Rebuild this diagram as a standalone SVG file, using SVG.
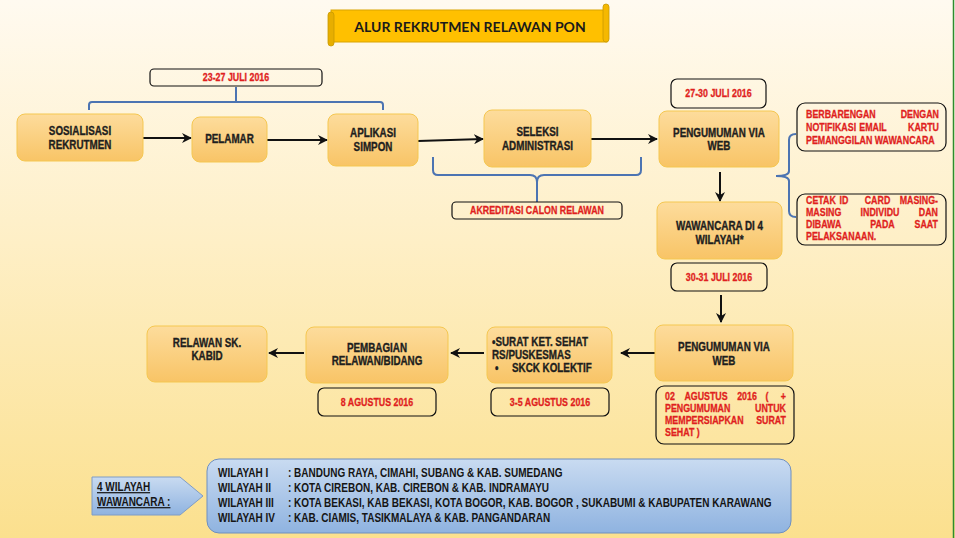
<svg xmlns="http://www.w3.org/2000/svg" width="955" height="538" viewBox="0 0 955 538">
<defs>
<linearGradient id="bg" x1="0" y1="0" x2="0" y2="1">
<stop offset="0" stop-color="#FFFAF0"/>
<stop offset="0.45" stop-color="#FEEFC6"/>
<stop offset="1" stop-color="#FBE08E"/>
</linearGradient>
<linearGradient id="ng" x1="0" y1="0" x2="0" y2="1">
<stop offset="0" stop-color="#FDDC9C"/>
<stop offset="1" stop-color="#F8C466"/>
</linearGradient>
<linearGradient id="lg" x1="0" y1="0" x2="0" y2="1">
<stop offset="0" stop-color="#C9DBF1"/>
<stop offset="1" stop-color="#8FB3E0"/>
</linearGradient>
<marker id="ah" viewBox="0 0 10 10" refX="9" refY="5" markerWidth="5" markerHeight="5" orient="auto" markerUnits="strokeWidth">
<path d="M0,0 L10,5 L0,10 L3,5 Z" fill="#111"/>
</marker>
<style>
.n rect{fill:url(#ng);stroke:#F5C751;stroke-width:1}
.nt{font-family:"Liberation Sans",Arial,sans-serif;font-weight:bold;font-size:12px;fill:#1E1E1E;stroke:#1E1E1E;stroke-width:0.35;text-anchor:middle}
.nl{text-anchor:start}
.d rect{fill:none;stroke:#111;stroke-width:1.2}
.rt{font-family:"Liberation Sans",Arial,sans-serif;font-weight:bold;font-size:10.8px;fill:#E01F1E;stroke:#E01F1E;stroke-width:0.3;text-anchor:middle}
.s{text-anchor:start}
.e{text-anchor:end}
.ar{stroke:#111;stroke-width:2;fill:none;marker-end:url(#ah)}
.br{stroke:#4C74B2;stroke-width:2;fill:none}
.lt{font-family:"Liberation Sans",Arial,sans-serif;font-weight:bold;font-size:12.2px;fill:#151515}
</style>
</defs>
<rect x="0" y="0" width="955" height="538" fill="url(#bg)"/>
<line x1="953.5" y1="0" x2="953.5" y2="538" stroke="#2E8B2E" stroke-width="1.5"/>

<g id="title">
<rect x="331" y="10" width="276" height="32" fill="#FFC000" stroke="#D9A400" stroke-width="1"/>
<rect x="328" y="12" width="6" height="34" rx="3" fill="#E7AE00" stroke="#C99A00" stroke-width="0.8"/>
<rect x="603" y="4" width="6" height="38" rx="3" fill="#F5B800" stroke="#C99A00" stroke-width="0.8"/>
<text x="470" y="31.5" font-family="Lato,'Open Sans',sans-serif" font-weight="bold" font-size="14" fill="#1A1A1A" text-anchor="middle">ALUR REKRUTMEN RELAWAN PON</text>
</g>

<g id="connectors">
<path class="ar" d="M143,138 L191,138"/>
<path class="ar" d="M267,140 L327,140"/>
<path class="ar" d="M418,141 L483,139"/>
<path class="ar" d="M591,139 L657,139"/>
<path class="ar" d="M720,172 L720,201"/>
<path class="ar" d="M721,295 L721,322"/>
<path class="ar" d="M655,353 L621,353"/>
<path class="ar" d="M484,353 L451,353"/>
<path class="ar" d="M304,353 L269,353"/>
<path class="br" d="M89,110 L89,105 Q89,102 92,102 L380,102 Q383,102 383,105 L383,110 M236,87 L236,102"/>
<path class="br" d="M433,157 L433,170 Q433,175 438,175 L530,175 Q537,175 537,182 L537,202 M537,182 Q537,175 544,175 L636,175 Q641,175 641,170 L641,157"/>
<path class="br" d="M796,134 Q789,134 789,140 L789,171 Q789,176 776,176 Q789,176 789,181 L789,211 Q789,217 796,217" stroke-width="1.6"/>
</g>

<g id="n-sosialisasi" class="n"><rect x="17" y="114" width="126" height="47" rx="8"/>
<text class="nt" transform="translate(80,135.3) scale(.82,1)">SOSIALISASI</text><text class="nt" transform="translate(80,149.3) scale(.82,1)">REKRUTMEN</text></g>
<g id="n-pelamar" class="n"><rect x="192" y="117" width="75" height="45" rx="8"/>
<text class="nt" transform="translate(229.5,143.3) scale(.82,1)">PELAMAR</text></g>
<g id="n-aplikasi" class="n"><rect x="328" y="114" width="90" height="52" rx="8"/>
<text class="nt" transform="translate(373,137.3) scale(.82,1)">APLIKASI</text><text class="nt" transform="translate(373,151.3) scale(.82,1)">SIMPON</text></g>
<g id="n-seleksi" class="n"><rect x="484" y="110" width="107" height="57" rx="8"/>
<text class="nt" transform="translate(537.5,136) scale(.82,1)">SELEKSI</text><text class="nt" transform="translate(537.5,150) scale(.82,1)">ADMINISTRASI</text></g>
<g id="n-pengumuman1" class="n"><rect x="659" y="111" width="120" height="56" rx="8"/>
<text class="nt" transform="translate(719,136.5) scale(.82,1)">PENGUMUMAN VIA</text><text class="nt" transform="translate(719,150) scale(.82,1)">WEB</text></g>
<g id="n-wawancara" class="n"><rect x="657" y="202" width="125" height="57" rx="8"/>
<text class="nt" transform="translate(719.5,230.3) scale(.82,1)">WAWANCARA DI 4</text><text class="nt" transform="translate(719.5,244.3) scale(.82,1)">WILAYAH*</text></g>
<g id="n-pengumuman2" class="n"><rect x="655" y="325" width="138" height="56" rx="8"/>
<text class="nt" transform="translate(724,351.3) scale(.82,1)">PENGUMUMAN VIA</text><text class="nt" transform="translate(724,365.3) scale(.82,1)">WEB</text></g>
<g id="n-surat" class="n"><rect x="487" y="327" width="125" height="56" rx="8"/>
<text class="nt nl" transform="translate(492,346.3) scale(.82,1)">•SURAT KET. SEHAT</text><text class="nt nl" transform="translate(492,359.3) scale(.82,1)">RS/PUSKESMAS</text>
<text class="nt nl" transform="translate(495,372.3) scale(.82,1)">•</text><text class="nt nl" transform="translate(512,372.3) scale(.82,1)">SKCK KOLEKTIF</text></g>
<g id="n-pembagian" class="n"><rect x="306" y="327" width="142" height="56" rx="8"/>
<text class="nt" transform="translate(377,352) scale(.82,1)">PEMBAGIAN</text><text class="nt" transform="translate(377,365) scale(.82,1)">RELAWAN/BIDANG</text></g>
<g id="n-relawan" class="n"><rect x="147" y="326" width="120" height="56" rx="8"/>
<text class="nt" transform="translate(207,347.3) scale(.82,1)">RELAWAN SK.</text><text class="nt" transform="translate(207,360.3) scale(.82,1)">KABID</text></g>

<g id="d-2327" class="d"><rect x="150" y="69" width="172" height="17" rx="4"/><text class="rt" transform="translate(236,81.3) scale(.82,1)">23-27 JULI 2016</text></g>
<g id="d-2730" class="d"><rect x="671" y="79" width="95" height="29" rx="6"/><text class="rt" transform="translate(718.5,96.8) scale(.82,1)">27-30 JULI 2016</text></g>
<g id="d-akreditasi" class="d"><rect x="452" y="202" width="170" height="17" rx="4"/><text class="rt" transform="translate(537,214.3) scale(.82,1)">AKREDITASI CALON RELAWAN</text></g>
<g id="d-3031" class="d"><rect x="671" y="263" width="96" height="28" rx="6"/><text class="rt" transform="translate(719,280.8) scale(.82,1)">30-31 JULI 2016</text></g>
<g id="d-8agu" class="d"><rect x="318" y="388" width="118" height="28" rx="6"/><text class="rt" transform="translate(377,405.8) scale(.82,1)">8 AGUSTUS 2016</text></g>
<g id="d-35agu" class="d"><rect x="491" y="388" width="118" height="28" rx="6"/><text class="rt" transform="translate(550,405.8) scale(.82,1)">3-5 AGUSTUS 2016</text></g>

<g id="note-email" class="d"><rect x="797" y="103" width="149" height="48" rx="8"/>
<text class="rt s" transform="translate(806,118) scale(.82,1)">BERBARENGAN</text><text class="rt e" transform="translate(939,118) scale(.82,1)">DENGAN</text>
<text class="rt s" transform="translate(806,131) scale(.82,1)">NOTIFIKASI</text><text class="rt" transform="translate(873,131) scale(.82,1)">EMAIL</text><text class="rt e" transform="translate(939,131) scale(.82,1)">KARTU</text>
<text class="rt s" transform="translate(806,144) scale(.82,1)">PEMANGGILAN WAWANCARA</text></g>
<g id="note-idcard" class="d"><rect x="797" y="194" width="149" height="51" rx="8"/>
<text class="rt s" transform="translate(806,204) scale(.82,1)">CETAK</text><text class="rt" transform="translate(844,204) scale(.82,1)">ID</text><text class="rt" transform="translate(877.5,204) scale(.82,1)">CARD</text><text class="rt e" transform="translate(938,204) scale(.82,1)">MASING-</text>
<text class="rt s" transform="translate(806,216) scale(.82,1)">MASING</text><text class="rt" transform="translate(880,216) scale(.82,1)">INDIVIDU</text><text class="rt e" transform="translate(938,216) scale(.82,1)">DAN</text>
<text class="rt s" transform="translate(806,228) scale(.82,1)">DIBAWA</text><text class="rt" transform="translate(882.5,228) scale(.82,1)">PADA</text><text class="rt e" transform="translate(938,228) scale(.82,1)">SAAT</text>
<text class="rt s" transform="translate(806,240) scale(.82,1)">PELAKSANAAN.</text></g>
<g id="note-0208" class="d"><rect x="656" y="386" width="138" height="58" rx="8"/>
<text class="rt s" transform="translate(665,399.5) scale(.82,1)">02</text><text class="rt" transform="translate(706,399.5) scale(.82,1)">AGUSTUS</text><text class="rt" transform="translate(747,399.5) scale(.82,1)">2016</text><text class="rt" transform="translate(767,399.5) scale(.82,1)">(</text><text class="rt e" transform="translate(786,399.5) scale(.82,1)">+</text>
<text class="rt s" transform="translate(665,411.5) scale(.82,1)">PENGUMUMAN</text><text class="rt e" transform="translate(786,411.5) scale(.82,1)">UNTUK</text>
<text class="rt s" transform="translate(665,424) scale(.82,1)">MEMPERSIAPKAN</text><text class="rt e" transform="translate(786,424) scale(.82,1)">SURAT</text>
<text class="rt s" transform="translate(665,436) scale(.82,1)">SEHAT )</text></g>

<g id="legend-label">
<path d="M92,477 L180,477 L203,496 L180,515 L92,515 Z" fill="url(#lg)" stroke="#7E9CC6" stroke-width="1"/>
<text class="lt" transform="translate(97,491) scale(.82,1)" text-decoration="underline">4 WILAYAH</text>
<text class="lt" transform="translate(97,506) scale(.82,1)" text-decoration="underline">WAWANCARA  :</text>
</g>
<g id="legend-box">
<rect x="207" y="459" width="584" height="74" rx="12" fill="url(#lg)" stroke="#6F8FBF" stroke-width="1"/>
<text class="lt" transform="translate(218,477) scale(.82,1)">WILAYAH I</text><text class="lt" transform="translate(288,477) scale(.82,1)">: BANDUNG RAYA, CIMAHI, SUBANG &amp; KAB. SUMEDANG</text>
<text class="lt" transform="translate(218,492) scale(.82,1)">WILAYAH II</text><text class="lt" transform="translate(288,492) scale(.82,1)">: KOTA CIREBON, KAB. CIREBON &amp; KAB. INDRAMAYU</text>
<text class="lt" transform="translate(218,507) scale(.82,1)">WILAYAH III</text><text class="lt" transform="translate(288,507) scale(.82,1)">: KOTA BEKASI, KAB BEKASI, KOTA BOGOR, KAB. BOGOR , SUKABUMI &amp; KABUPATEN KARAWANG</text>
<text class="lt" transform="translate(218,522) scale(.82,1)">WILAYAH IV</text><text class="lt" transform="translate(288,522) scale(.82,1)">: KAB. CIAMIS, TASIKMALAYA &amp; KAB. PANGANDARAN</text>
</g>
</svg>
